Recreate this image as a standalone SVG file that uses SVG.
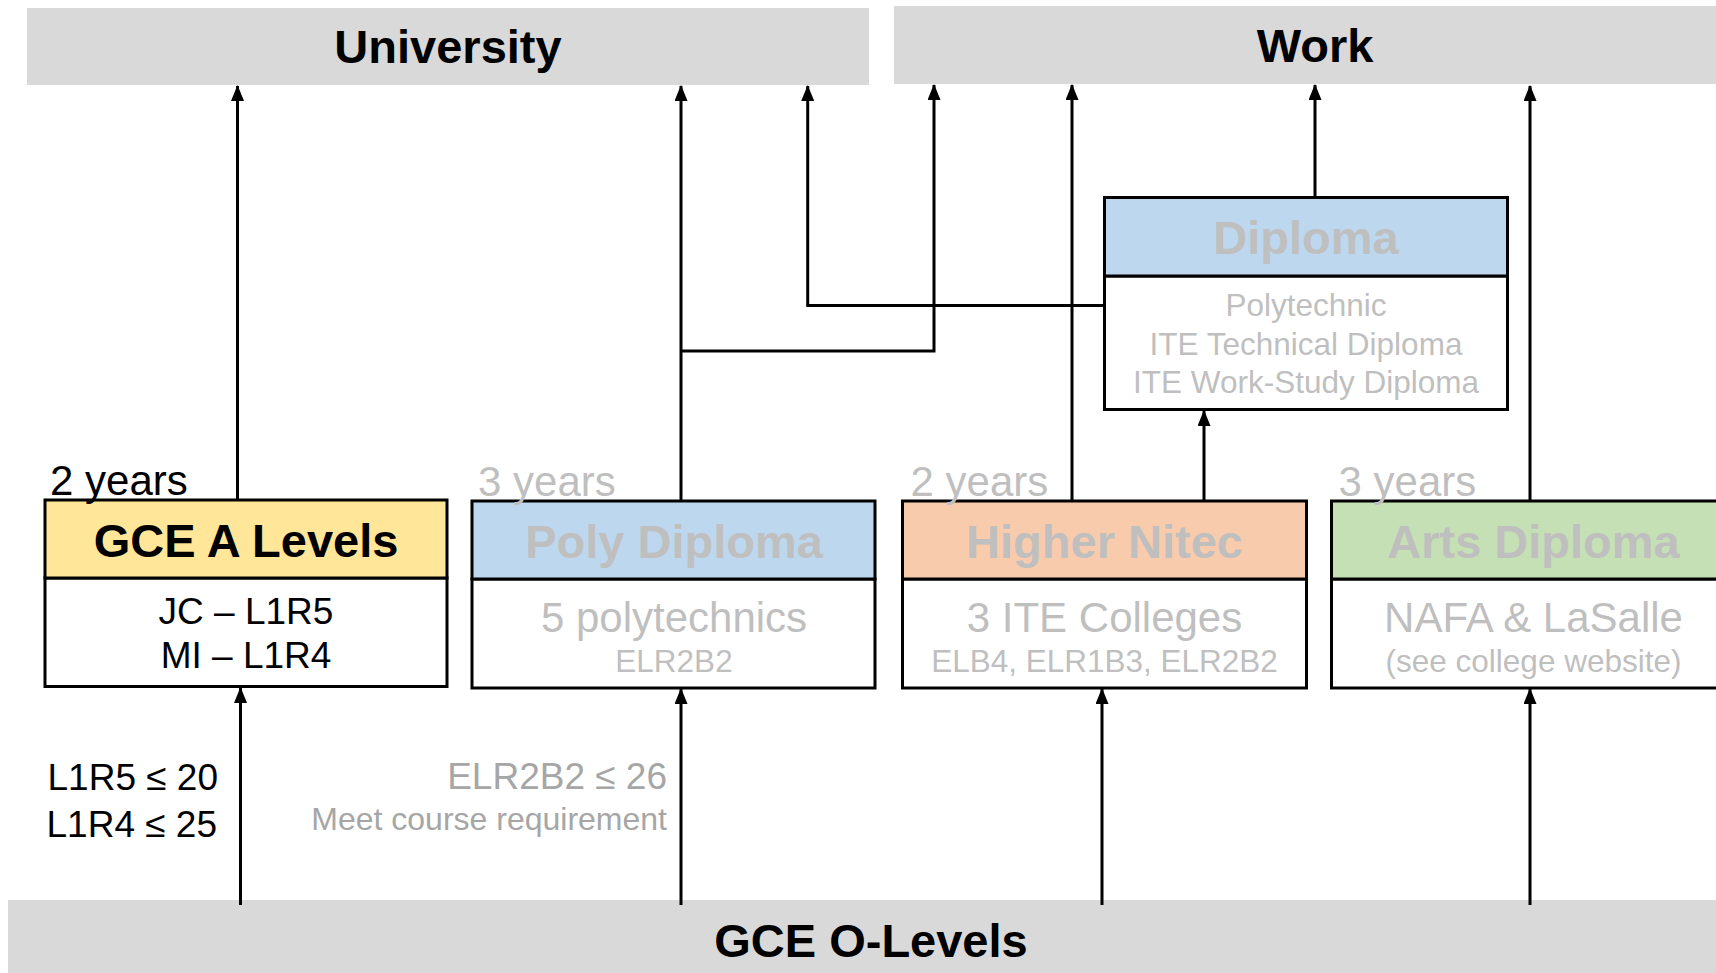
<svg xmlns="http://www.w3.org/2000/svg" width="1716" height="973" viewBox="0 0 1716 973">
<style>
text{font-family:"Liberation Sans",Arial,sans-serif}
.band{fill:#d9d9d9}
.bt{font-weight:bold;font-size:47px;fill:#000;text-anchor:middle}
.hd{stroke:#000;stroke-width:3}
.gh{font-weight:bold;font-size:47px;fill:#bfbfbf;text-anchor:middle}
.body{fill:#fff;stroke:#000;stroke-width:3}
.big{font-size:42px;fill:#bfbfbf;text-anchor:middle}
.sm{font-size:31.5px;fill:#bfbfbf;text-anchor:middle}
.blk{font-size:37px;fill:#000;text-anchor:middle}
.yr{font-size:42px;fill:#bfbfbf}
.yk{font-size:42px;fill:#000}
.lbl{font-size:37px}
.conn{fill:none;stroke:#000;stroke-width:3}
</style>
<defs>
<marker id="ah" viewBox="0 0 16 13" refX="15" refY="6.5" markerWidth="16" markerHeight="13" markerUnits="userSpaceOnUse" orient="auto">
<path d="M0,0 L16,6.5 L0,13 Z" fill="#000"/>
</marker>
</defs>

<g id="university">
<rect class="band" x="27" y="8" width="842" height="77"/>
<text class="bt" x="448" y="63">University</text>
</g>
<g id="work">
<rect class="band" x="894" y="6" width="842" height="78"/>
<text class="bt" x="1315" y="62">Work</text>
</g>
<g id="olevels">
<rect class="band" x="8" y="900" width="1728" height="73"/>
<text class="bt" x="871" y="957">GCE O-Levels</text>
</g>

<g id="connectors">
<line class="conn" x1="240.5" y1="905" x2="240.5" y2="688" marker-end="url(#ah)"/>
<line class="conn" x1="681" y1="905" x2="681" y2="689" marker-end="url(#ah)"/>
<line class="conn" x1="1102" y1="905" x2="1102" y2="689" marker-end="url(#ah)"/>
<line class="conn" x1="1530" y1="905" x2="1530" y2="689" marker-end="url(#ah)"/>
<line class="conn" x1="237.5" y1="500" x2="237.5" y2="86" marker-end="url(#ah)"/>
<line class="conn" x1="681" y1="501" x2="681" y2="86" marker-end="url(#ah)"/>
<polyline class="conn" points="681,351 934,351 934,85" marker-end="url(#ah)"/>
<polyline class="conn" points="1104,305.5 807.7,305.5 807.7,86" marker-end="url(#ah)"/>
<line class="conn" x1="1072" y1="501" x2="1072" y2="85" marker-end="url(#ah)"/>
<line class="conn" x1="1204" y1="501" x2="1204" y2="411" marker-end="url(#ah)"/>
<line class="conn" x1="1315" y1="198" x2="1315" y2="85" marker-end="url(#ah)"/>
<line class="conn" x1="1530" y1="501" x2="1530" y2="86" marker-end="url(#ah)"/>
</g>

<g id="alevels">
<rect class="body" x="45" y="578" width="402" height="108.5"/>
<rect class="hd" fill="#ffe699" x="45" y="500" width="402" height="78"/>
<text class="bt" x="246" y="557">GCE A Levels</text>
<text class="blk" x="246" y="624">JC – L1R5</text>
<text class="blk" x="246" y="668">MI – L1R4</text>
<text class="yk" x="50" y="495">2 years</text>
</g>

<g id="poly">
<rect class="body" x="472" y="579" width="403" height="109"/>
<rect class="hd" fill="#bdd7ee" x="472" y="501" width="403" height="78"/>
<text class="gh" x="674" y="558">Poly Diploma</text>
<text class="big" x="674" y="632">5 polytechnics</text>
<text class="sm" x="674" y="672">ELR2B2</text>
<text class="yr" x="478" y="496">3 years</text>
</g>

<g id="nitec">
<rect class="body" x="902.5" y="579" width="404" height="109"/>
<rect class="hd" fill="#f8cbad" x="902.5" y="501" width="404" height="78"/>
<text class="gh" x="1104.5" y="558">Higher Nitec</text>
<text class="big" x="1104.5" y="632">3 ITE Colleges</text>
<text class="sm" x="1104.5" y="672">ELB4, ELR1B3, ELR2B2</text>
<text class="yr" x="910.5" y="496">2 years</text>
</g>

<g id="arts">
<rect class="body" x="1331.5" y="579" width="404" height="109"/>
<rect class="hd" fill="#c5e0b4" x="1331.5" y="501" width="404" height="78"/>
<text class="gh" x="1533.5" y="558">Arts Diploma</text>
<text class="big" x="1533.5" y="632">NAFA &amp; LaSalle</text>
<text class="sm" x="1533.5" y="672">(see college website)</text>
<text class="yr" x="1338.5" y="496">3 years</text>
</g>

<g id="diploma">
<rect class="body" x="1104.5" y="276" width="403" height="133.5"/>
<rect class="hd" fill="#bdd7ee" x="1104.5" y="197.5" width="403" height="78.5"/>
<text class="gh" x="1306" y="254">Diploma</text>
<text class="sm" x="1306" y="316">Polytechnic</text>
<text class="sm" x="1306" y="355">ITE Technical Diploma</text>
<text class="sm" x="1306" y="393">ITE Work-Study Diploma</text>
</g>

<g id="labels">
<text class="lbl" x="218" y="790" text-anchor="end" fill="#000">L1R5 ≤ 20</text>
<text class="lbl" x="217" y="837" text-anchor="end" fill="#000">L1R4 ≤ 25</text>
<text class="lbl" x="667" y="789" text-anchor="end" fill="#a6a6a6">ELR2B2 ≤ 26</text>
<text x="667" y="830" text-anchor="end" fill="#a6a6a6" font-size="32">Meet course requirement</text>
</g>
</svg>
